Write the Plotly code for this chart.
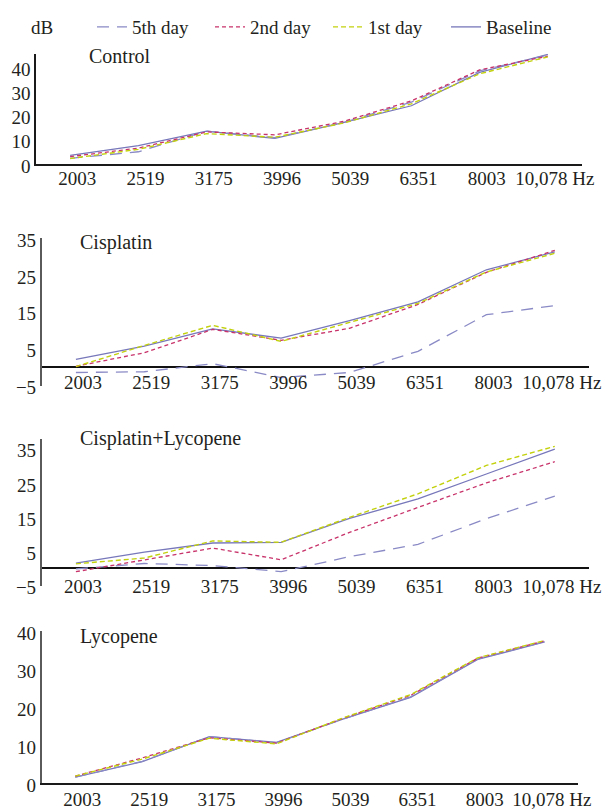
import plotly.graph_objects as go

categories = ["2003", "2519", "3175", "3996", "5039", "6351", "8003", "10,078"]
tick_labels = ["2003", "2519", "3175", "3996", "5039", "6351", "8003", "10,078 Hz"]
series_names = ["5th day", "2nd day", "1st day", "Baseline"]
panel_names = ["Control", "Cisplatin", "Cisplatin+Lycopene", "Lycopene"]

control_baseline = [3.5, 7.5, 13.5, 10.5, 17.0, 24.0, 37.8, 45.2]
control_5th = [2.3, 5.0, 13.5, 10.8, 17.0, 25.5, 38.4, 45.0]
control_2nd = [3.0, 6.5, 13.2, 12.0, 17.5, 26.0, 38.8, 44.5]
control_1st = [2.2, 6.0, 12.5, 11.0, 16.8, 24.8, 37.2, 44.2]

cis_baseline = [2.0, 5.6, 10.3, 7.8, 12.6, 17.7, 26.5, 31.4]
cis_5th = [-1.6, -1.4, 0.8, -3.0, -1.6, 4.2, 14.2, 16.7]
cis_2nd = [0.1, 3.8, 10.2, 7.2, 10.5, 17.0, 25.8, 31.8]
cis_1st = [0.0, 5.8, 11.3, 6.9, 12.1, 17.3, 25.9, 31.0]

cl_baseline = [1.5, 4.7, 7.4, 7.6, 14.6, 20.3, 27.6, 34.9]
cl_5th = [-0.2, 1.4, 0.8, -1.0, 3.4, 7.0, 14.5, 21.1]
cl_2nd = [-1.0, 2.5, 5.9, 2.5, 10.5, 17.8, 25.0, 31.2]
cl_1st = [1.3, 3.0, 8.0, 7.6, 14.9, 21.8, 30.1, 35.7]

lyc_baseline = [1.5, 5.6, 12.2, 10.7, 16.9, 22.6, 32.6, 37.2]
lyc_5th = [1.5, 5.7, 12.2, 10.6, 16.9, 22.7, 32.7, 37.3]
lyc_2nd = [1.8, 6.6, 11.9, 10.5, 17.1, 23.1, 32.9, 37.5]
lyc_1st = [1.8, 6.3, 11.8, 10.3, 17.2, 23.3, 33.0, 37.6]

panels = [
    (control_5th, control_2nd, control_1st, control_baseline),
    (cis_5th, cis_2nd, cis_1st, cis_baseline),
    (cl_5th, cl_2nd, cl_1st, cl_baseline),
    (lyc_5th, lyc_2nd, lyc_1st, lyc_baseline),
]

y_ticks = [
    [0, 10, 20, 30, 40],
    [-5, 5, 15, 25, 35],
    [-5, 5, 15, 25, 35],
    [0, 10, 20, 30, 40],
]

# layout geometry, in page pixels; the page body has an 8px margin
OFF = 8
W, H = 606, 802
x_px = [(36, 582), (41.7, 589), (41.7, 589), (41.7, 578.3)]
y_px = [(48, 159), (234, 383), (436, 584), (630, 782.7)]
y_ranges = [[0, 45.5], [-5.35, 35.1], [-5.1, 37.9], [0, 40]]
label_standoff = [-3, -17, -13, -1]
title_px = [(87, 50), (78, 238), (78, 436), (78, 635)]


def px_x(v):
    return (v - OFF) / W


def px_y(v):
    return 1 - (v - OFF) / H


styles = {
    "5th day": dict(color="#8a8ac6", dash="12px,8px", width=1.3),
    "2nd day": dict(color="#c8336a", dash="4px,3px", width=1.3),
    "1st day": dict(color="#c2d10c", dash="5px,3px", width=1.4),
    "Baseline": dict(color="#7777bb", dash="solid", width=1.3),
}
draw_order = ["Baseline", "5th day", "2nd day", "1st day"]
legend_rank = {"5th day": 1, "2nd day": 2, "1st day": 3, "Baseline": 4}

FONT = "Liberation Serif"
TXT = "#231f20"
FS = 19

fig = go.Figure()
for p, data in enumerate(panels):
    vals = dict(zip(series_names, data))
    sfx = "" if p == 0 else str(p + 1)
    for name in draw_order:
        fig.add_trace(go.Scatter(
            x=categories, y=vals[name], mode="lines", name=name,
            line=styles[name], showlegend=(p == 0),
            legendrank=legend_rank[name],
            xaxis="x" + sfx, yaxis="y" + sfx, hoverinfo="skip",
        ))

layout = dict(
    width=W, height=H, margin=dict(l=0, r=0, t=0, b=0),
    paper_bgcolor="white", plot_bgcolor="white",
    font=dict(family=FONT, size=FS, color=TXT),
    showlegend=True,
    legend=dict(orientation="h", x=px_x(92), y=px_y(2), xanchor="left", yanchor="top",
                entrywidth=73, entrywidthmode="pixels", font=dict(size=FS, family=FONT),
                bgcolor="rgba(0,0,0,0)", itemwidth=30),
)

annotations = []
for p in range(4):
    sfx = "" if p == 0 else str(p + 1)
    x0, x1 = x_px[p]
    yt, yb = y_px[p]
    has_zero_inside = y_ranges[p][0] < 0
    layout["xaxis" + sfx] = dict(
        domain=[px_x(x0), px_x(x1)], anchor="y" + sfx, type="category",
        range=[-0.5, 7.5], tickmode="array", tickvals=categories, ticktext=tick_labels,
        showline=not has_zero_inside, linecolor="#1a1a1a", linewidth=1.5,
        showgrid=False, zeroline=False, ticks="", ticklabelshift=7,
        ticklabelstandoff=label_standoff[p], automargin=False,
        tickfont=dict(size=FS, color=TXT, family=FONT), fixedrange=True,
    )
    layout["yaxis" + sfx] = dict(
        domain=[px_y(yb), px_y(yt)], anchor="x" + sfx, range=y_ranges[p],
        tickmode="array", tickvals=y_ticks[p],
        ticktext=[("\u2212" + str(-v)) if v < 0 else str(v) for v in y_ticks[p]],
        showline=True, linecolor="#5a5a5a" if p else "#1a1a1a", linewidth=1.6,
        showgrid=False, zeroline=has_zero_inside, zerolinecolor="#111111", zerolinewidth=1.5,
        ticks="", automargin=False, ticklabelshift=2,
        tickfont=dict(size=FS, color=TXT, family=FONT), fixedrange=True,
    )
    tx, ty = title_px[p]
    annotations.append(dict(
        text=panel_names[p], x=px_x(tx), y=px_y(ty), xref="paper", yref="paper",
        xanchor="left", yanchor="middle", showarrow=False,
        font=dict(size=20, color=TXT, family=FONT),
    ))

annotations.append(dict(
    text="dB", x=px_x(42), y=px_y(22), xref="paper", yref="paper",
    xanchor="center", yanchor="middle", showarrow=False,
    font=dict(size=FS, color=TXT, family=FONT),
))
layout["annotations"] = annotations
fig.update_layout(**layout)

fig.write_html("out.html", config=dict(displayModeBar=False))
